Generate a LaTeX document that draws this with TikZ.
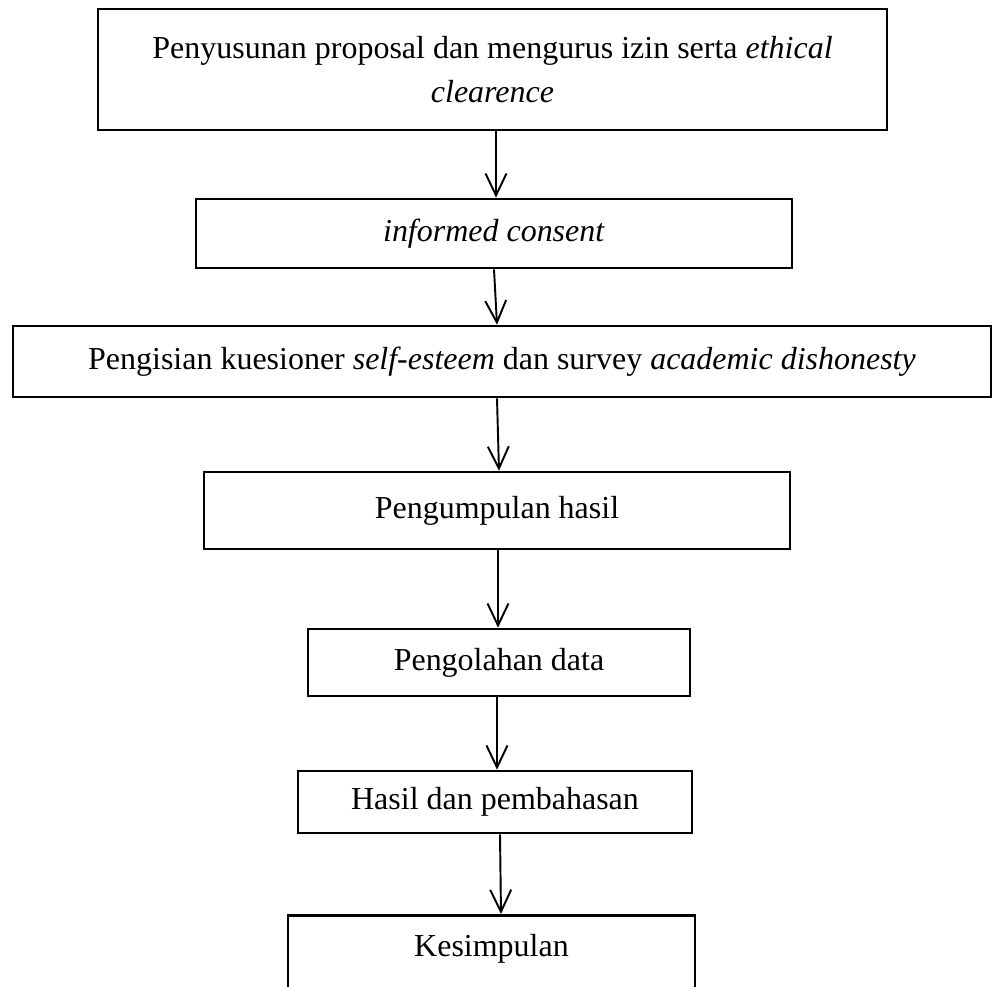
\documentclass[tikz,border=0pt]{standalone}
\usepackage{fontspec}
\setmainfont{Liberation Serif}
\usepackage{tikz}
\usetikzlibrary{arrows.meta}

\begin{document}
\begin{tikzpicture}[x=0.02cm, y=-0.02cm,
  stepbox/.style={draw, line width=1.5pt, inner sep=0pt, align=center,
    font=\fontsize{18.2}{25}\selectfont},
  flowarrow/.style={-{Straight Barb[length=0.44cm, width=0.42cm]}, line width=1.1pt}]
  \useasboundingbox (0,0) rectangle (992,987);
  \clip (0,0) rectangle (992,987);

  % process boxes, top to bottom
  \node[stepbox, minimum width=15.78cm, minimum height=2.42cm] (proposal) at (492.5,69.5)
    {Penyusunan proposal dan mengurus izin serta \textit{ethical}\\ \textit{clearence}};
  \node[stepbox, minimum width=11.92cm, minimum height=1.38cm] (consent) at (494,233.5)
    {\textit{informed consent}};
  \node[stepbox, minimum width=19.56cm, minimum height=1.42cm] (kuesioner) at (502,361.5)
    {Pengisian kuesioner \textit{self-esteem} dan survey \textit{academic dishonesty}};
  \node[stepbox, minimum width=11.72cm, minimum height=1.54cm] (kumpul) at (497,510.5)
    {Pengumpulan hasil};
  \node[stepbox, minimum width=7.64cm, minimum height=1.34cm] (olah) at (499,662.5)
    {Pengolahan data};
  \node[stepbox, minimum width=7.88cm, minimum height=1.24cm] (bahas) at (495,802)
    {Hasil dan pembahasan};
  \node[stepbox, minimum width=8.14cm, anchor=north, text height=0.82cm, text depth=2.2cm] (simpul) at (491.5,914)
    {Kesimpulan};

  % connectors
  \draw[flowarrow] (proposal.south -| 496,0) -- (consent.north -| 496,0);
  \draw[flowarrow] (consent.south -| 494,0) -- (kuesioner.north -| 497,0);
  \draw[flowarrow] (kuesioner.south -| 497,0) -- (kumpul.north -| 499,0);
  \draw[flowarrow] (kumpul.south -| 498,0) -- (olah.north -| 498,0);
  \draw[flowarrow] (olah.south -| 497,0) -- (bahas.north -| 497,0);
  \draw[flowarrow] (bahas.south -| 500,0) -- (simpul.north -| 501,0);
\end{tikzpicture}
\end{document}
